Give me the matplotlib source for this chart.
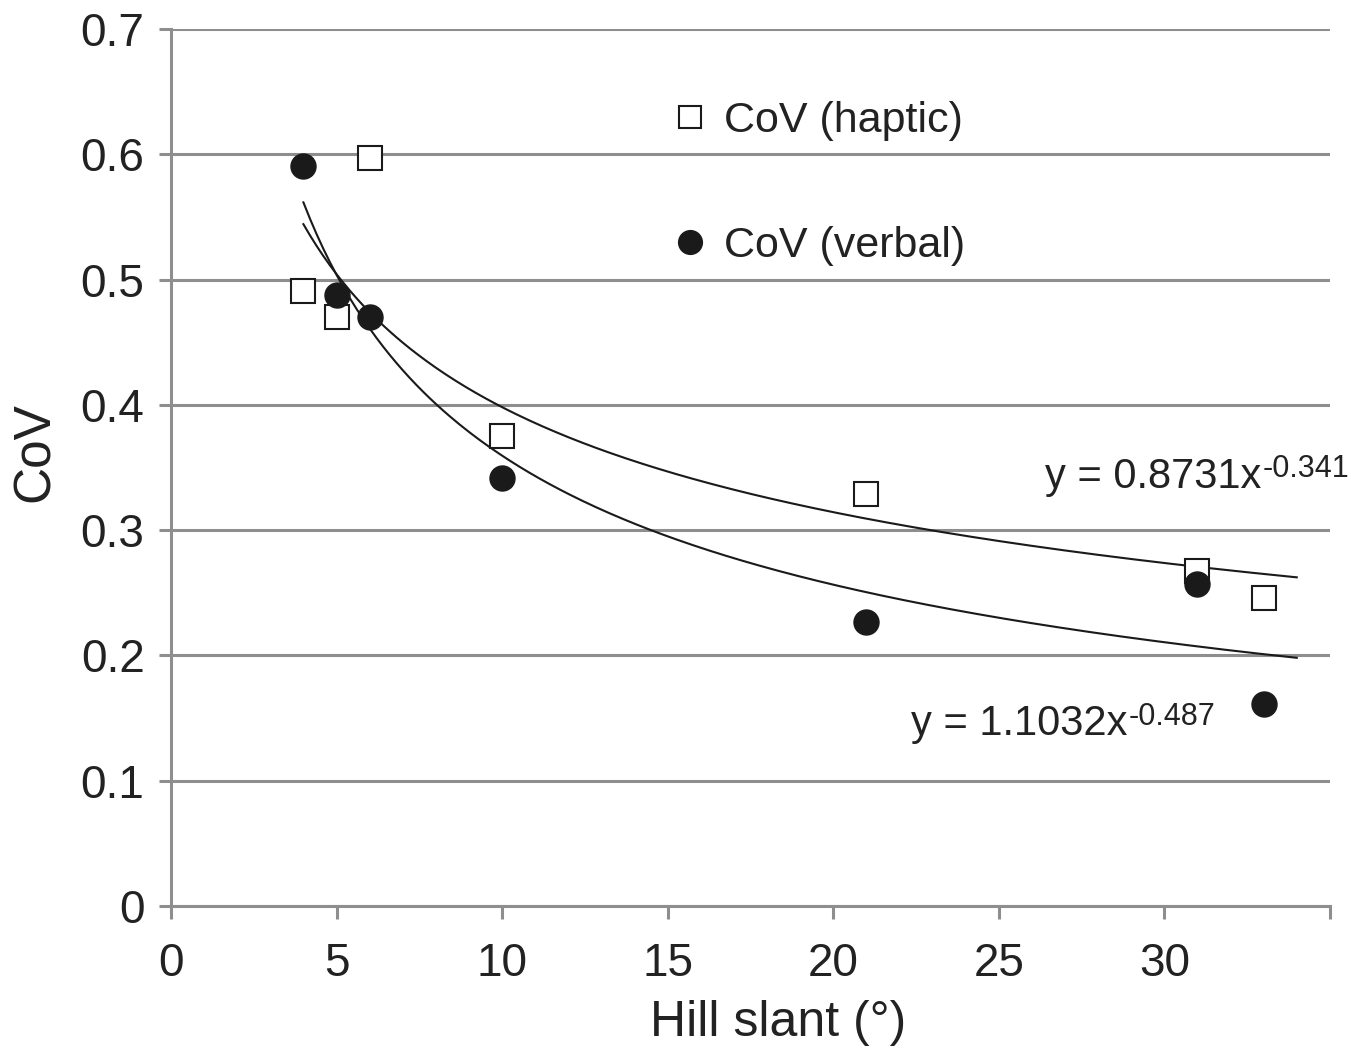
import numpy as np
import matplotlib
matplotlib.use("Agg")
import matplotlib.pyplot as plt

## data
slant = [4, 5, 6, 10, 21, 31, 33]
cov_haptic = [0.491, 0.470, 0.597, 0.375, 0.329, 0.267, 0.246]
cov_verbal = [0.591, 0.488, 0.470, 0.342, 0.227, 0.257, 0.161]

# power trendlines as printed on the chart: y = a * x^b
fit_haptic = (0.8731, -0.341)
fit_verbal = (1.1032, -0.487)
fit_range = (4, 34)

xticks = [0, 5, 10, 15, 20, 25, 30, 35]
xticklabels = ["0", "5", "10", "15", "20", "25", "30", ""]
yticks = [0, 0.1, 0.2, 0.3, 0.4, 0.5, 0.6, 0.7]
yticklabels = ["0", "0.1", "0.2", "0.3", "0.4", "0.5", "0.6", "0.7"]

## style
plt.rcParams['font.family'] = ['Liberation Sans', 'DejaVu Sans']
grey = "#8e8e8e"
ink = "#222222"

fig = plt.figure(figsize=(13.71, 10.51), dpi=100)
ax = fig.add_axes([0.1247, 0.138, 0.8453, 0.8344])

# grid
ax.set_axisbelow(True)
ax.yaxis.grid(True, color=grey, lw=2.2)
ax.xaxis.grid(False)

# trendlines
xx = np.linspace(fit_range[0], fit_range[1], 300)
ax.plot(xx, fit_haptic[0] * xx ** fit_haptic[1], color="#1a1a1a", lw=1.5, zorder=3)
ax.plot(xx, fit_verbal[0] * xx ** fit_verbal[1], color="#1a1a1a", lw=1.5, zorder=3)

# points
ax.plot(slant, cov_haptic, ls="none", marker="s", ms=17, mfc="white", mec="#1a1a1a",
        mew=1.5, label="CoV (haptic)", zorder=4)
ax.plot(slant, cov_verbal, ls="none", marker="o", ms=18, mfc="#1a1a1a", mec="#1a1a1a",
        mew=1, label="CoV (verbal)", zorder=5)

# equations (hyphen in the exponent, like the original)
def equation(x, y, a, b):
    t = ax.text(x, y, "y = %.4fx" % a, fontsize=30, color=ink, va="baseline")
    ax.annotate("%.3f" % b, xy=(1, 0), xycoords=t, xytext=(0.8, 14),
                textcoords="offset points", fontsize=22, color=ink, va="baseline")
    return t

equation(26.4, 0.334, *fit_haptic)
equation(22.34, 0.1365, *fit_verbal)

# legend
leg = ax.legend(loc="center left", bbox_to_anchor=(0.433, 0.824), frameon=False,
                fontsize=31, handlelength=0.8, handletextpad=0.4, labelspacing=1.97,
                borderpad=0, borderaxespad=0, markerscale=0.95)
for t in leg.get_texts():
    t.set_color(ink)

# axes
ax.set_xlim(0, 35)
ax.set_ylim(0, 0.7)
ax.set_xticks(xticks)
ax.set_xticklabels(xticklabels)
ax.set_yticks(yticks)
ax.set_yticklabels(yticklabels)
ax.tick_params(axis="both", direction="out", length=9, width=2.2, color=grey,
               labelsize=33, labelcolor=ink)
ax.tick_params(axis="x", pad=17)
ax.tick_params(axis="y", pad=10)
for s in ["top", "right"]:
    ax.spines[s].set_visible(False)
for s in ["left", "bottom"]:
    ax.spines[s].set_color(grey)
    ax.spines[s].set_linewidth(2.2)

ax.set_xlabel("Hill slant (°)", fontsize=36, color=ink, labelpad=10)
ax.set_ylabel("CoV", fontsize=37, color=ink, labelpad=15)
ax.xaxis.label.set_x(0.524)
ax.yaxis.label.set_y(0.518)

fig.savefig("out.png", dpi=100)
